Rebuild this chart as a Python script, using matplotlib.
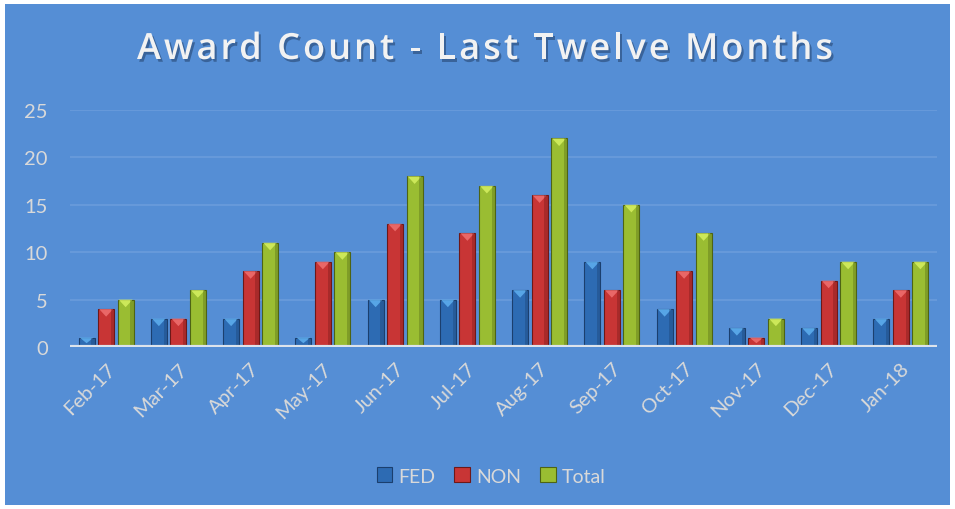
import matplotlib
matplotlib.use("Agg")
import matplotlib.pyplot as plt
import matplotlib.patheffects as pe
from matplotlib.patches import Rectangle, Polygon
import numpy as np

months = ["Feb-17", "Mar-17", "Apr-17", "May-17", "Jun-17", "Jul-17",
          "Aug-17", "Sep-17", "Oct-17", "Nov-17", "Dec-17", "Jan-18"]
fed = [1, 3, 3, 1, 5, 5, 6, 9, 4, 2, 2, 3]
non = [4, 3, 8, 9, 13, 12, 16, 6, 8, 1, 7, 6]
total = [5, 6, 11, 10, 18, 17, 22, 15, 12, 3, 9, 9]
series = [("FED", fed), ("NON", non), ("Total", total)]
yticks = [0, 5, 10, 15, 20, 25]
title = "Award Count - Last Twelve Months"

bg = "#558ED5"
colors = {"FED": ("#2D6BB3", "#5FB0F0", "#1B3F6E"),
          "NON": ("#C83535", "#F07070", "#6E1818"),
          "Total": ("#9ABD32", "#D6F060", "#4E6414")}
txt = "#D9D9D9"
plt.rcParams['font.family'] = ['Lato', 'DejaVu Sans']

fig = plt.figure(figsize=(9.55, 5.10), dpi=100, facecolor="white")
fig.patches.append(Rectangle((5/955, 4/510), 945/955, 501/510, transform=fig.transFigure,
                             facecolor=bg, edgecolor="none", zorder=-10))
ax = fig.add_axes([70/955, 1-348/510, 867/955, 237/510])
ax.set_zorder(2)
ax.set_facecolor("none")
x = np.arange(len(months))
w = 0.22
step = 0.27
for i, (name, vals) in enumerate(series):
    base, light, dark = colors[name]
    bars = ax.bar(x + (i-1)*step, vals, width=w, color=base, edgecolor=dark,
                  linewidth=0.8, zorder=3, label=name)
    for p in bars:
        x0 = p.get_x(); bw = p.get_width(); h = p.get_height()
        d = min(0.8, h*0.6)
        tri = Polygon([[x0+0.06*bw, h], [x0+0.94*bw, h], [x0+bw/2, h-d]],
                      closed=True, facecolor=light, edgecolor="none", alpha=0.85, zorder=4)
        ax.add_patch(tri)
        ax.add_patch(Rectangle((x0+bw*0.8, 0), bw*0.2, h, facecolor=dark, alpha=0.35,
                               edgecolor="none", zorder=4))

ax.set_xlim(-0.5, len(months)-0.5)
ax.set_ylim(0, 25)
ax.set_yticks(yticks)
ax.set_yticklabels([str(t) for t in yticks], color=txt, fontsize=14.5)
ax.set_xticks(x)
ax.set_xticklabels(months, rotation=45, ha="right", rotation_mode="anchor",
                   color=txt, fontsize=14.5)
ax.tick_params(axis="both", length=0)
ax.tick_params(axis="y", pad=16)
ax.tick_params(axis="x", pad=9)
for s in ax.spines.values():
    s.set_visible(False)
ax.yaxis.grid(True, color="#6A9CDC", linewidth=1.2, zorder=0)
ax.set_axisbelow(True)
ax.axhline(0, color="#DCE3EC", linewidth=3, zorder=5)

# Title with letter spacing: place each character individually
renderer = fig.canvas.get_renderer()
tkw = dict(fontsize=26, fontweight="semibold", color="#F2F2F2",
           family=["Open Sans", "DejaVu Sans"])
shadow = [pe.withSimplePatchShadow(offset=(1.5, -2), shadow_rgbFace="#1F3A60", alpha=0.5)]
def adv(s):
    t = fig.text(0, 0, s, **tkw)
    wpx = t.get_window_extent(renderer).width
    t.remove()
    return wpx
ref = adv("ll")
widths = [adv("l" + c + "l") - ref for c in title]
x_start, x_end = 137, 833
gap = (x_end - x_start - sum(widths)) / (len(title) - 1)
cx = x_start
for c, wc in zip(title, widths):
    if c != " ":
        fig.text(cx/955, 1-51/510, c, ha="left", va="center", path_effects=shadow, **tkw)
    cx += wc + gap

fig.legend(loc="center", bbox_to_anchor=(491/955, 1-477/510), ncol=3, frameon=False,
           fontsize=14, labelcolor=txt, handlelength=0.8, handleheight=0.8,
           handletextpad=0.3, columnspacing=1.0)
fig.savefig("out.png", dpi=100, facecolor="white")
